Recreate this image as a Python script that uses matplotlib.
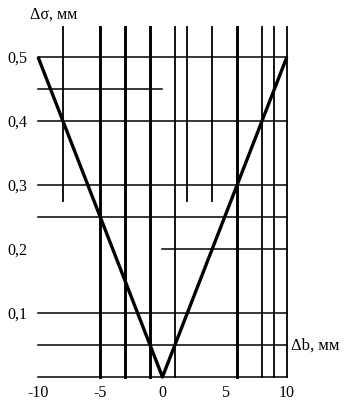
import matplotlib
matplotlib.use('Agg')
import matplotlib.pyplot as plt

plt.rcParams['font.family'] = ['Liberation Serif', 'DejaVu Serif']
plt.rcParams['axes.unicode_minus'] = False

# V-shaped dependence
db = [-10, 0, 10]
dsigma = [0.5, 0.0, 0.5]

# grid lines of the nomogram
v_thick = [-5, -3, -1, 6]
v_thin = [1, 8, 9, 10]
v_short = [-8, 2, 4]
v_short_bottom = 0.275
h_full = [0.0, 0.05, 0.1, 0.25, 0.3, 0.4, 0.5]
h_left = [0.45]
h_right = [0.2]

xticks = [-10, -5, 0, 5, 10]
xlabels = ['-10', '-5', '0', '5', '10']
yticks = [0.1, 0.2, 0.3, 0.4, 0.5]
ylabels = ['0,1', '0,2', '0,3', '0,4', '0,5']

fig = plt.figure(figsize=(3.49, 4.08), dpi=100)
ax = fig.add_axes([0.109, 0.076, 0.713, 0.858])
ax.set_xlim(-10, 10)
ax.set_ylim(0, 0.547)

top = 0.547
for x in v_thick:
    ax.plot([x, x], [0, top], color='black', lw=2.1, clip_on=False)
for x in v_thin:
    ax.plot([x, x], [0, top], color='black', lw=1.3, clip_on=False)
for x in v_short:
    ax.plot([x, x], [v_short_bottom, top], color='black', lw=1.3, clip_on=False)
for y in h_full:
    ax.plot([-10, 10], [y, y], color='black', lw=1.1, clip_on=False)
for y in h_left:
    ax.plot([-10, 0], [y, y], color='black', lw=1.1, clip_on=False)
for y in h_right:
    ax.plot([0, 10], [y, y], color='black', lw=1.1, clip_on=False)

ax.plot(db, dsigma, color='black', lw=2.4, clip_on=False, solid_capstyle='butt')

for s in ax.spines.values():
    s.set_visible(False)
ax.tick_params(length=0, labelsize=11.5)
ax.set_xticks(xticks)
ax.set_xticklabels(xlabels)
ax.set_yticks(yticks)
ax.set_yticklabels(ylabels)
ax.tick_params(axis='y', pad=8)
ax.tick_params(axis='x', pad=6)

fig.text(30 / 349, 1 - 15 / 408, 'Δσ, мм', fontsize=11.5, va='center', ha='left')
fig.text(291 / 349, 1 - 346 / 408, 'Δb, мм', fontsize=12, va='center', ha='left')

fig.savefig('out.png', dpi=100)
